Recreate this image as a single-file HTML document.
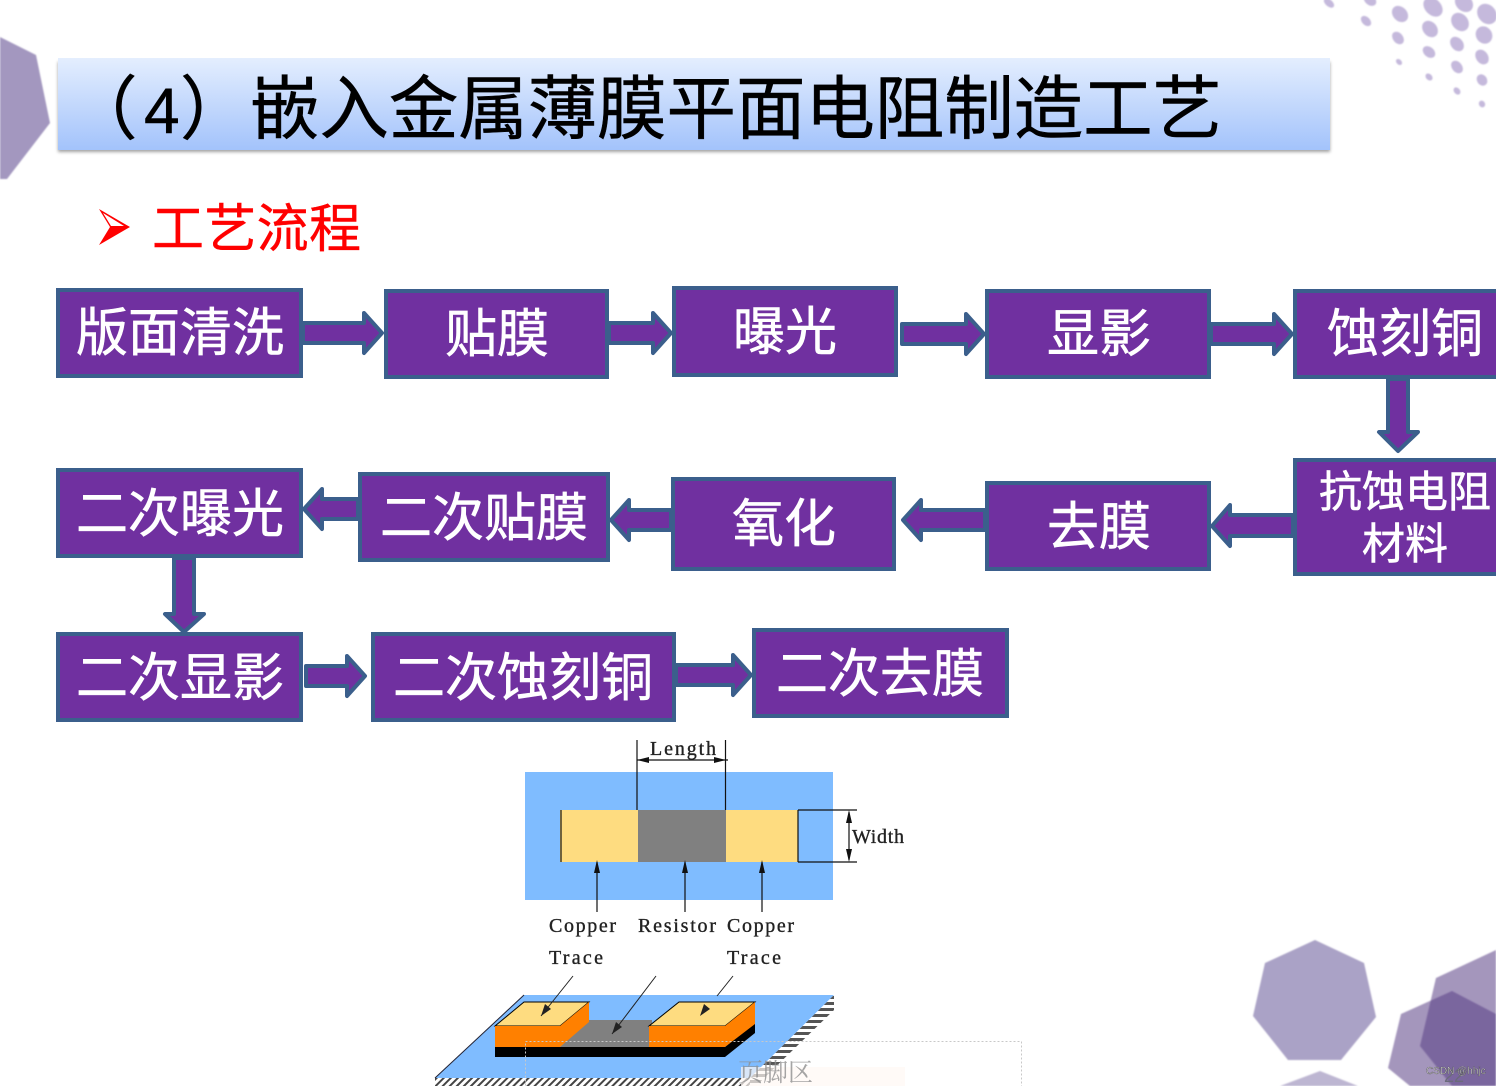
<!DOCTYPE html>
<html><head><meta charset="utf-8">
<style>
html,body{margin:0;padding:0;background:#fff;width:1496px;height:1086px;overflow:hidden}
svg{display:block}
.c{font-family:"Liberation Sans","Noto Sans CJK SC",sans-serif}
.b{fill:#fff;font-size:52px;text-anchor:middle;stroke:#fff;stroke-width:.6}
.s{font-family:"Liberation Serif",serif;font-size:20px;fill:#222;stroke:#222;stroke-width:.35}
rect.n{fill:#7030a0;stroke:#3b5f8c;stroke-width:4}
polygon.a{fill:#7030a0;stroke:#3b5f8c;stroke-width:4;stroke-linejoin:round}
</style></head><body>
<svg width="1496" height="1086" viewBox="0 0 1496 1086" xmlns="http://www.w3.org/2000/svg">
<defs>
<linearGradient id="g" x1="0" y1="0" x2="0" y2="1"><stop offset="0" stop-color="#e4eefe"/><stop offset="1" stop-color="#a3c3fb"/></linearGradient>
<filter id="sh" x="-2%" y="-10%" width="104%" height="125%"><feGaussianBlur stdDeviation="1.5"/></filter>
<filter id="soft" x="-5%" y="-5%" width="110%" height="110%"><feGaussianBlur stdDeviation=".7"/></filter>
<pattern id="h" width="5" height="5" patternUnits="userSpaceOnUse" patternTransform="rotate(45)"><rect width="5" height="5" fill="#fff"/><rect width="2" height="5" fill="#444"/></pattern>
<pattern id="h2" width="6" height="6" patternUnits="userSpaceOnUse"><rect width="6" height="6" fill="#fff"/><rect width="6" height="3" fill="#555"/></pattern>
</defs>

<!-- decorations -->
<polygon points="0,37 36,55 50,123 7,179 0,179" fill="#a397bf" filter="url(#soft)"/>
<g fill="#c5b9dc" filter="url(#soft)">
<ellipse cx="1329" cy="3" rx="6" ry="3.5" transform="rotate(40 1329 3)"/>
<ellipse cx="1370" cy="0" rx="7" ry="5" transform="rotate(40 1370 0)"/>
<ellipse cx="1366" cy="21" rx="6" ry="4" transform="rotate(45 1366 21)"/>
<ellipse cx="1400" cy="14" rx="9" ry="7" transform="rotate(45 1400 14)"/>
<ellipse cx="1433" cy="7" rx="11" ry="8" transform="rotate(45 1433 7)"/>
<ellipse cx="1464" cy="3" rx="10" ry="8" transform="rotate(45 1464 3)"/>
<ellipse cx="1487" cy="14" rx="11" ry="9" transform="rotate(50 1487 14)"/>
<ellipse cx="1460" cy="22" rx="10" ry="8" transform="rotate(50 1460 22)"/>
<ellipse cx="1430" cy="29" rx="9" ry="7" transform="rotate(50 1430 29)"/>
<ellipse cx="1398" cy="38" rx="7" ry="5" transform="rotate(50 1398 38)"/>
<ellipse cx="1484" cy="35" rx="9" ry="8" transform="rotate(55 1484 35)"/>
<ellipse cx="1457" cy="44" rx="8" ry="6" transform="rotate(50 1457 44)"/>
<ellipse cx="1429" cy="52" rx="7" ry="5" transform="rotate(40 1429 52)"/>
<ellipse cx="1399" cy="62" rx="3.5" ry="2.5" transform="rotate(45 1399 62)"/>
<ellipse cx="1482" cy="57" rx="8" ry="6" transform="rotate(55 1482 57)"/>
<ellipse cx="1457" cy="67" rx="7" ry="5" transform="rotate(50 1457 67)"/>
<ellipse cx="1429" cy="77" rx="4" ry="3" transform="rotate(45 1429 77)"/>
<ellipse cx="1482" cy="80" rx="6" ry="5" transform="rotate(55 1482 80)"/>
<ellipse cx="1457" cy="91" rx="4" ry="3" transform="rotate(50 1457 91)"/>
<ellipse cx="1482" cy="104" rx="3.5" ry="3" transform="rotate(55 1482 104)"/>
</g>
<g filter="url(#soft)">
<polygon points="1315,940 1364,963 1376,1017 1341,1060 1288,1060 1253,1016 1265,963" fill="#aaa2c6"/>
<polygon points="1320,1071 1280,1086 1358,1086" fill="#bdb6d2"/>
<polygon points="1496,950 1436,978 1420,1046 1452,1086 1496,1086" fill="#5a3f85" opacity=".55"/>
<polygon points="1452,991 1401,1014 1388,1068 1410,1086 1496,1086 1496,1014" fill="#5a3f85" opacity=".55"/>
</g>

<!-- title -->
<rect x="58" y="62" width="1272" height="90" fill="#555" opacity=".55" filter="url(#sh)"/>
<rect x="58" y="58" width="1272" height="92" fill="url(#g)"/>
<g class="c" font-size="69.500" fill="#000" stroke="#000" stroke-width=".5">
<text x="68" y="133">（</text>
<text x="144" y="133" font-size="64">4</text>
<text x="180" y="133">）</text>
<text x="250" y="133" textLength="972">嵌入金属薄膜平面电阻制造工艺</text>
</g>

<!-- subtitle -->
<polygon points="99,209 130,227 99,245 110,227" fill="#f00"/>
<polygon points="103,213 124,226 111,226" fill="#fff"/>
<text class="c" x="152" y="247" font-size="52" fill="#f00" stroke="#f00" stroke-width=".4" textLength="209">工艺流程</text>

<!-- arrows -->
<polygon class="a" points="303,323 364,323 364,313 382,333 364,353 364,343 303,343"/>
<polygon class="a" points="609,323 653,323 653,313 671,333 653,353 653,343 609,343"/>
<polygon class="a" points="902,324 966,324 966,314 984,334 966,354 966,344 902,344"/>
<polygon class="a" points="1211,324 1274,324 1274,314 1292,334 1274,354 1274,344 1211,344"/>
<polygon class="a" points="1388,379 1408,379 1408,432 1418,432 1398,451 1379,432 1388,432"/>
<polygon class="a" points="1293,515 1230,515 1230,505 1212,526 1230,546 1230,536 1293,536"/>
<polygon class="a" points="985,510 921,510 921,500 903,520 921,540 921,530 985,530"/>
<polygon class="a" points="671,510 629,510 629,500 611,520 629,540 629,530 671,530"/>
<polygon class="a" points="358,499 322,499 322,489 304,509 322,529 322,519 358,519"/>
<polygon class="a" points="174,558 194,558 194,614 204,614 184,632 165,614 174,614"/>
<polygon class="a" points="306,666 347,666 347,656 365,676 347,696 347,686 306,686"/>
<polygon class="a" points="676,665 733,665 733,655 751,675 733,695 733,685 676,685"/>

<!-- boxes -->
<rect class="n" x="58" y="290" width="243" height="86"/>
<rect class="n" x="386" y="291" width="221" height="86"/>
<rect class="n" x="674" y="288" width="222" height="87"/>
<rect class="n" x="987" y="291" width="222" height="86"/>
<rect class="n" x="1295" y="291" width="210" height="86"/>
<rect class="n" x="58" y="470" width="243" height="86"/>
<rect class="n" x="360" y="474" width="248" height="86"/>
<rect class="n" x="673" y="479" width="221" height="90"/>
<rect class="n" x="987" y="483" width="222" height="86"/>
<rect class="n" x="1295" y="460" width="210" height="114"/>
<rect class="n" x="58" y="634" width="243" height="86"/>
<rect class="n" x="373" y="634" width="301" height="86"/>
<rect class="n" x="754" y="630" width="253" height="86"/>

<g class="c">
<text class="b" x="180" y="351">版面清洗</text>
<text class="b" x="497" y="352">贴膜</text>
<text class="b" x="785" y="350">曝光</text>
<text class="b" x="1099" y="352">显影</text>
<text class="b" x="1405" y="352">蚀刻铜</text>
<text class="b" x="1405" y="507" style="font-size:43px">抗蚀电阻</text>
<text class="b" x="1405" y="559" style="font-size:43px">材料</text>
<text class="b" x="180" y="532">二次曝光</text>
<text class="b" x="484" y="536">二次贴膜</text>
<text class="b" x="784" y="542">氧化</text>
<text class="b" x="1099" y="545">去膜</text>
<text class="b" x="180" y="696">二次显影</text>
<text class="b" x="523" y="696">二次蚀刻铜</text>
<text class="b" x="880" y="692">二次去膜</text>
</g>

<!-- resistor top view -->
<rect x="525" y="772" width="308" height="128" fill="#7fbcff"/>
<rect x="560" y="810" width="78" height="52" fill="#fedc80"/>
<rect x="726" y="810" width="72" height="52" fill="#fedc80"/>
<rect x="638" y="810" width="88" height="52" fill="#808080"/>
<g stroke="#111" fill="none" stroke-width="1.2">
<path d="M637,740V810M725.500,740V810M798,810V862M798,810H857M798,862H857M561,810V862"/>
<path d="M637,760H728M849,812V860"/>
<path d="M597,862V912M685,862V912M762,862V912"/>
</g>
<g fill="#111">
<polygon points="637,760 649,757 649,763"/><polygon points="726,760 714,757 714,763"/>
<polygon points="849,810 846,823 852,823"/><polygon points="849,862 846,849 852,849"/>
<polygon points="597,860 594,873 600,873"/><polygon points="685,860 682,873 688,873"/><polygon points="762,860 759,873 765,873"/>
</g>
<text class="s" x="650" y="755" textLength="66">Length</text>
<text class="s" x="852" y="843" textLength="52">Width</text>
<text class="s" x="549" y="932" textLength="67">Copper</text>
<text class="s" x="638" y="932" textLength="78">Resistor</text>
<text class="s" x="727" y="932" textLength="67">Copper</text>
<text class="s" x="549" y="964" textLength="54">Trace</text>
<text class="s" x="727" y="964" textLength="54">Trace</text>

<!-- resistor 3D view -->
<polygon points="524,995 834,995 750,1078 435,1078" fill="#7fbcff"/>
<rect x="435" y="1078" width="315" height="8" fill="url(#h)"/>
<polygon points="834,995 834,1010 756,1086 750,1086 750,1078" fill="url(#h2)"/>
<path d="M435,1078 524,995" stroke="#223" stroke-width="1" fill="none"/>
<polygon points="589,1020 652,1020 652,1047 560,1047" fill="#808080"/>
<polygon points="495,1047 725,1047 755,1022 755,1033 725,1057 495,1057" fill="#000"/>
<polygon points="524,1002 589,1002 560,1026 495,1026" fill="#fedc80" stroke="#000" stroke-width="1"/>
<rect x="495" y="1026" width="65" height="21" fill="#ff8000"/>
<polygon points="560,1026 589,1002 589,1022 560,1047" fill="#ff8000"/>
<polygon points="679,1002 755,1002 725,1026 649,1026" fill="#fedc80" stroke="#000" stroke-width="1"/>
<rect x="649" y="1026" width="76" height="21" fill="#ff8000"/>
<polygon points="725,1026 755,1002 755,1024 725,1047" fill="#ff8000"/>
<g stroke="#222" stroke-width="1" fill="none"><path d="M573,976 541,1016M656,976 612,1034M733,976 717,996"/></g>
<g fill="#222">
<polygon points="541,1016 545,1004 551,1009"/><polygon points="612,1034 616,1022 622,1027"/><polygon points="700,1016 704,1004 710,1009"/>
</g>

<!-- footer placeholder -->
<rect x="741" y="1067" width="164" height="19" fill="#fff8f4" opacity=".7"/>
<rect x="525.500" y="1041.500" width="496" height="60" fill="none" stroke="#c8c8c8" stroke-width="1" stroke-dasharray="2 2"/>
<text x="738" y="1081" font-size="25" fill="#8f8f8f" fill-opacity=".8" font-family="'Liberation Serif','Noto Serif CJK SC',serif">页脚区</text>

<!-- page number + watermark -->
<text x="1444" y="1082" font-size="18" fill="#6b6b7b" font-family="'Liberation Sans',sans-serif">22</text>
<text x="1426" y="1074" font-size="10" fill="#e8e8e8" stroke="#444" stroke-width=".35" font-family="'Liberation Sans',sans-serif">CSDN @hhjc</text>
</svg>
</body></html>
